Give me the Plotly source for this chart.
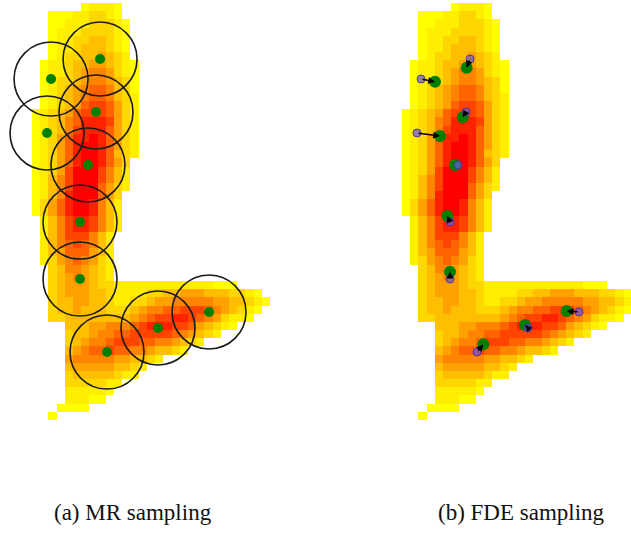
import plotly.graph_objects as go

# ---------------- data ----------------
# Density grid: each row = (first column, intensity digits 0..9)
HEAT_ROWS = [
    (6, "01110"),
    (2, "000112210"),
    (2, "0011122210"),
    (2, "0111222210"),
    (2, "0112233210"),
    (2, "0112333210"),
    (2, "0122334321"),
    (1, "011233443210"),
    (1, "011234554210"),
    (1, "012234554320"),
    (1, "012345665320"),
    (1, "012345665321"),
    (1, "012346776421"),
    (0, "0123467776421"),
    (0, "0123568887421"),
    (0, "0123578886421"),
    (0, "0124688986421"),
    (0, "0124689986421"),
    (0, "0124689986321"),
    (0, "012468998642"),
    (0, "012479997531"),
    (0, "013579997531"),
    (0, "013579996421"),
    (0, "01358999642"),
    (0, "02468998531"),
    (0, "02468998531"),
    (1, "1357887531"),
    (1, "1357887531"),
    (1, "135777531"),
    (1, "135676531"),
    (1, "134666431"),
    (1, "124565421"),
    (2, "23554321"),
    (2, "23454321"),
    (2, "23444322111111111111000"),
    (2, "23444332111122334443332210"),
    (2, "233443321122344555554433210"),
    (2, "23343332223455667776543210"),
    (2, "2233333333456778876542110"),
    (4, "333445556788877643210"),
    (4, "2334556677777654321"),
    (4, "23455677766554321"),
    (4, "345667665543321"),
    (4, "455555443321"),
    (4, "3444443321"),
    (4, "233333211"),
    (4, "2222211"),
    (4, "111110"),
    (4, "11100"),
    (3, "0000"),
    (2, "0"),
]
N_COLS = 29

# MR samples (grid units: column, row)
MR_X = [7.79, 1.82, 7.30, 1.33, 6.32, 5.35, 5.35, 8.64, 14.85, 21.07]
MR_Y = [6.35, 8.80, 12.83, 15.40, 19.31, 26.29, 33.26, 42.19, 39.25, 37.29]
# FDE-refined samples
FDE_X = [7.38, 3.52, 6.90, 4.13, 5.96, 5.02, 5.35, 9.41, 14.49, 19.57]
FDE_Y = [7.41, 9.13, 13.48, 15.77, 19.31, 25.55, 32.36, 41.24, 38.88, 37.17]

CAPTIONS = ["(a) MR sampling", "(b) FDE sampling"]

# ---------------- layout constants (pixels) ----------------
W, H = 631, 551
CELL_W = 238 / 29
CELL_H = 417 / 51
LEFT_X0, RIGHT_X0, TOP_Y0 = 32, 402, 3
SPLIT = 316
Y_BOTTOM = 440
CIRCLE_R = 37

Z = []
for start, digits in HEAT_ROWS:
    row = [None] * N_COLS
    for i, ch in enumerate(digits):
        if start + i < N_COLS:
            row[start + i] = int(ch)
    Z.append(row)

# yellow -> orange -> red
G_LEVELS = [255, 238, 215, 190, 162, 132, 100, 68, 34, 0]
colorscale = [[i / 9, f"rgb(255,{g},0)"] for i, g in enumerate(G_LEVELS)]


def xrange_for(px_origin, lo_px, hi_px):
    return [(lo_px - px_origin) / CELL_W - 0.5, (hi_px - px_origin) / CELL_W - 0.5]


yrange = [(Y_BOTTOM - TOP_Y0) / CELL_H - 0.5, (0 - TOP_Y0) / CELL_H - 0.5]

fig = go.Figure()
for xa, ya in [("x", "y"), ("x2", "y2")]:
    fig.add_trace(go.Heatmap(z=Z, x0=0, dx=1, y0=0, dy=1, colorscale=colorscale,
                             zmin=0, zmax=9, showscale=False, zsmooth=False,
                             hoverinfo="skip", xaxis=xa, yaxis=ya))

# left: MR samples
fig.add_trace(go.Scatter(x=MR_X, y=MR_Y, mode="markers", xaxis="x", yaxis="y",
                         marker=dict(size=10, color="#008000"), showlegend=False))
# right: FDE + MR
fig.add_trace(go.Scatter(x=FDE_X, y=FDE_Y, mode="markers", xaxis="x2", yaxis="y2",
                         marker=dict(size=12, color="#008000"), showlegend=False))
fig.add_trace(go.Scatter(x=MR_X, y=MR_Y, mode="markers", xaxis="x2", yaxis="y2",
                         marker=dict(size=8, color="rgba(105,85,215,0.7)",
                                     line=dict(color="rgba(70,50,160,0.9)", width=1)),
                         showlegend=False))

rx = CIRCLE_R / CELL_W
ry = CIRCLE_R / CELL_H
shapes = []
for cx, cy in zip(MR_X, MR_Y):
    shapes.append(dict(type="circle", xref="x", yref="y", x0=cx - rx, x1=cx + rx,
                       y0=cy - ry, y1=cy + ry, line=dict(color="#1a1a1a", width=1.6),
                       layer="above"))

annotations = []
for mx, my, fx, fy in zip(MR_X, MR_Y, FDE_X, FDE_Y):
    annotations.append(dict(x=fx, y=fy, ax=mx, ay=my, xref="x2", yref="y2",
                            axref="x2", ayref="y2", text="", showarrow=True,
                            arrowhead=2, arrowsize=0.9, arrowwidth=1.5,
                            arrowcolor="black", standoff=0, startstandoff=0))
cap_x = [133, 521]
for txt, cx in zip(CAPTIONS, cap_x):
    annotations.append(dict(x=cx / W, y=1 - 512 / H, xref="paper", yref="paper",
                            text=txt, showarrow=False, xanchor="center", yanchor="middle",
                            font=dict(family="Liberation Serif", size=23, color="#111")))

axis_common = dict(visible=False, showgrid=False, zeroline=False, fixedrange=True)
fig.update_layout(
    width=W, height=H, margin=dict(l=0, r=0, t=0, b=0),
    paper_bgcolor="white", plot_bgcolor="white", showlegend=False,
    xaxis=dict(domain=[0, SPLIT / W], range=xrange_for(LEFT_X0, 0, SPLIT), **axis_common),
    yaxis=dict(domain=[1 - Y_BOTTOM / H, 1], range=yrange, **axis_common),
    xaxis2=dict(domain=[SPLIT / W, 1], range=xrange_for(RIGHT_X0, SPLIT, W), **axis_common),
    yaxis2=dict(domain=[1 - Y_BOTTOM / H, 1], range=yrange, **axis_common),
    shapes=shapes, annotations=annotations,
)

fig.write_html("out.html")
